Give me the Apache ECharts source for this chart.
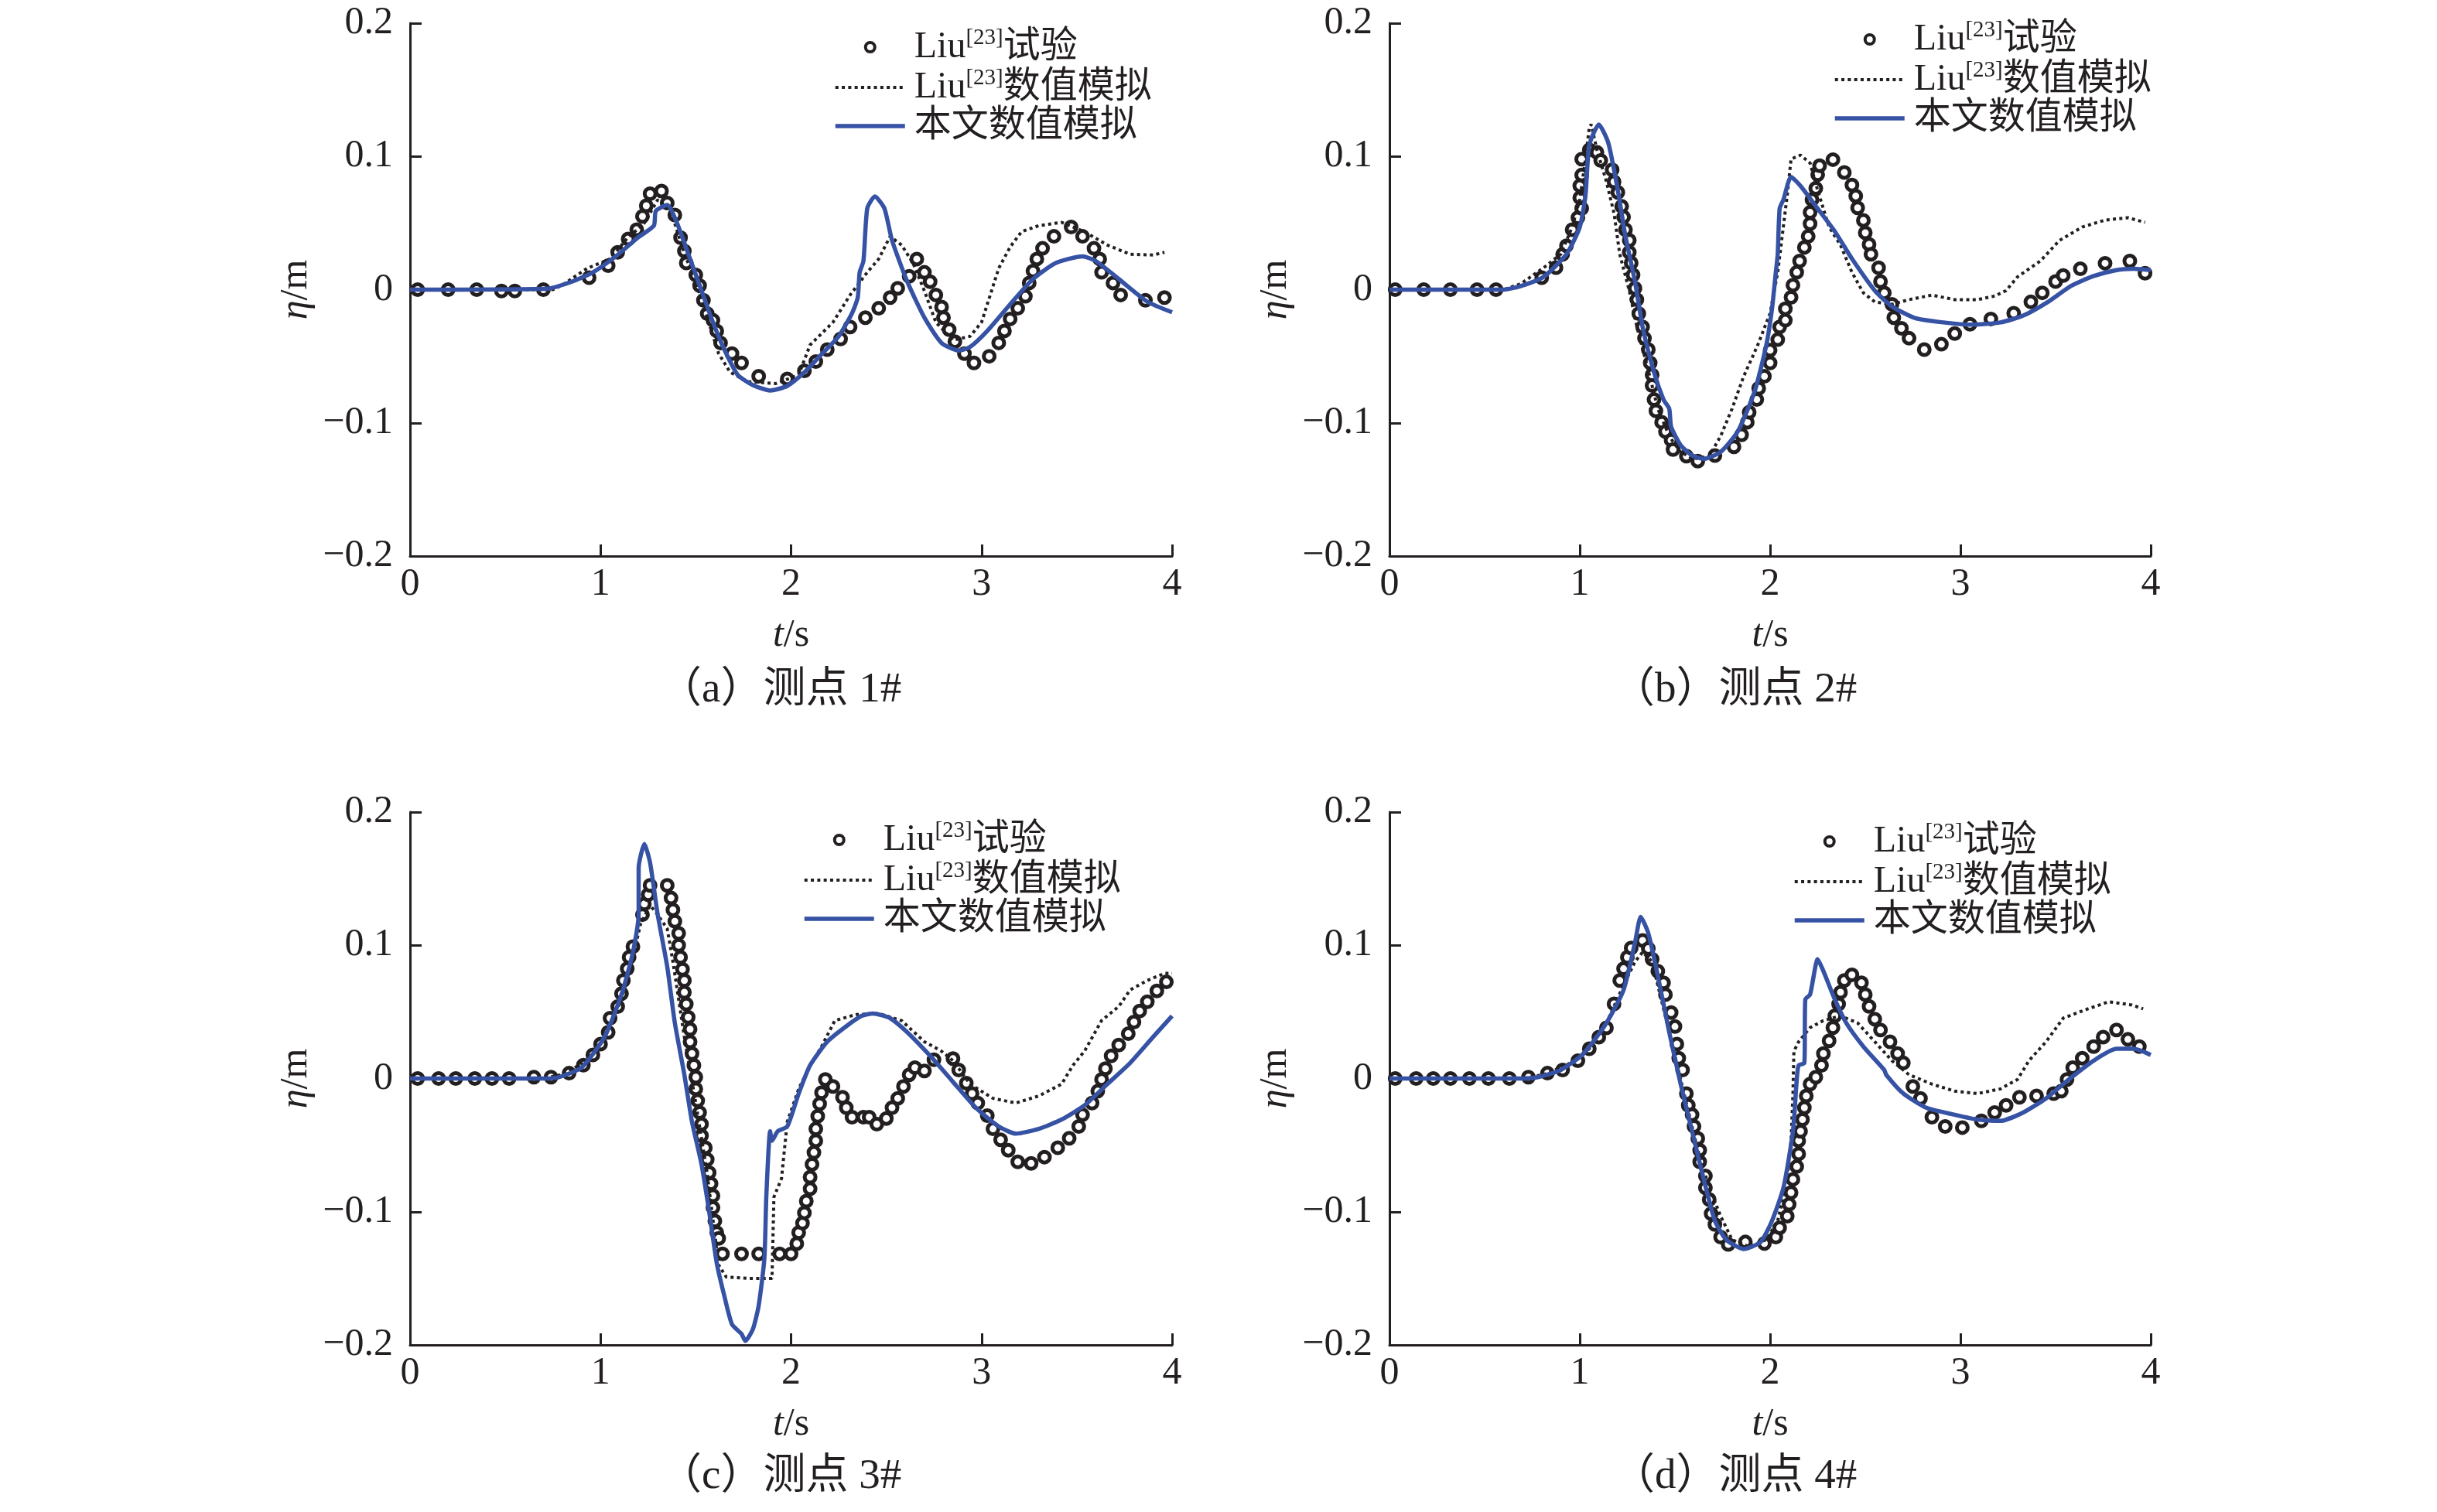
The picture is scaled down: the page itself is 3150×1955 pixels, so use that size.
<!DOCTYPE html>
<html>
<head>
<meta charset="utf-8">
<script src="https://cdn.jsdelivr.net/npm/echarts@6/dist/echarts.min.js"></script>
<style>
html,body{margin:0;padding:0;background:#fff;}
#main{width:3150px;height:1955px;}
</style>
</head>
<body>
<div id="main"></div>
<script>
// 测点波面时程：Liu试验 / Liu数值模拟 / 本文数值模拟
var seriesNames = ['Liu[23]试验', 'Liu[23]数值模拟', '本文数值模拟'];
var panelTitles = ['（a）测点 1#', '（b）测点 2#', '（c）测点 3#', '（d）测点 4#'];
var xTicks = [0, 4, 1];        // min, max, interval  (t/s)
var yTicks = [-0.2, 0.2, 0.1]; // min, max, interval  (η/m)

// ---- 测点 1# ----
var expA = [[0.04,0],[0.2,0],[0.35,0],[0.48,-0.001],[0.55,-0.001],[0.70,0],[0.94,0.009],[1.04,0.018],[1.09,0.028],[1.145,0.038],
  [1.19,0.045],[1.22,0.055],[1.24,0.063],[1.26,0.072],[1.32,0.074],[1.35,0.065],[1.39,0.056],[1.42,0.039],[1.44,0.029],[1.45,0.020],
  [1.50,0.011],[1.52,0.003],[1.54,-0.008],[1.56,-0.018],[1.59,-0.023],[1.61,-0.031],[1.63,-0.040],[1.69,-0.048],[1.74,-0.055],[1.83,-0.065],
  [1.98,-0.067],[2.07,-0.061],[2.13,-0.054],[2.19,-0.045],[2.26,-0.037],[2.31,-0.028],[2.39,-0.021],[2.46,-0.014],[2.52,-0.006],[2.56,0.001],
  [2.62,0.010],[2.66,0.023],[2.70,0.013],[2.73,0.006],[2.76,-0.004],[2.79,-0.013],[2.80,-0.021],[2.83,-0.030],[2.86,-0.039],[2.91,-0.048],
  [2.96,-0.055],[3.04,-0.050],[3.09,-0.040],[3.12,-0.031],[3.15,-0.022],[3.19,-0.014],[3.23,-0.005],[3.25,0.005],[3.27,0.014],[3.29,0.023],
  [3.32,0.031],[3.38,0.040],[3.47,0.047],[3.53,0.040],[3.59,0.031],[3.62,0.023],[3.63,0.013],[3.69,0.005],[3.73,-0.004],[3.86,-0.008],[3.96,-0.006]];
var liuA = [[0,0],[0.75,0],[0.80,0.0035],[0.93,0.016],[1.05,0.023],[1.14,0.0385],[1.23,0.050],[1.30,0.0675],[1.34,0.0625],[1.38,0.054],
  [1.44,0.027],[1.50,0.006],[1.56,-0.021],[1.62,-0.048],[1.68,-0.062],[1.77,-0.069],[1.92,-0.0705],[2.04,-0.064],[2.10,-0.0415],[2.22,-0.0245],
  [2.31,-0.004],[2.40,0.013],[2.46,0.023],[2.52,0.040],[2.58,0.0335],[2.64,0.020],[2.70,-0.001],[2.76,-0.0245],[2.85,-0.038],[2.94,-0.035],
  [3.00,-0.0245],[3.09,0.016],[3.15,0.032],[3.21,0.0435],[3.30,0.048],[3.42,0.0505],[3.54,0.0435],[3.66,0.0335],[3.78,0.0265],[3.90,0.026],[3.96,0.028]];
var oursA = [[0,0],[0.72,0.0007],[0.84,0.0055],[0.96,0.013],[1.08,0.025],[1.20,0.0395],[1.28,0.048],[1.29,0.059],[1.35,0.0635],[1.40,0.0505],
  [1.47,0.023],[1.53,-0.0007],[1.59,-0.0245],[1.65,-0.045],[1.72,-0.064],[1.80,-0.0717],[1.89,-0.0757],[1.98,-0.0723],[2.07,-0.062],[2.16,-0.0485],
  [2.25,-0.035],[2.32,-0.0177],[2.35,-0.006],[2.36,0.013],[2.38,0.0215],[2.40,0.061],[2.44,0.070],[2.49,0.061],[2.53,0.037],[2.61,0.006],
  [2.70,-0.021],[2.79,-0.040],[2.88,-0.0457],[2.94,-0.043],[3.03,-0.031],[3.15,-0.011],[3.27,0.008],[3.39,0.020],[3.53,0.025],[3.60,0.0215],
  [3.72,0.008],[3.87,-0.009],[4.0,-0.017]];

// ---- 测点 2# ----
var expB = [[0.03,0],[0.18,0],[0.32,0],[0.46,0],[0.56,0],[0.80,0.009],[0.875,0.0165],[0.91,0.0265],[0.93,0.033],[0.96,0.045],
  [0.99,0.054],[1.01,0.061],[1.00,0.069],[1.00,0.078],[1.01,0.086],[1.01,0.098],[1.05,0.105],[1.09,0.103],[1.11,0.097],[1.17,0.090],
  [1.18,0.081],[1.20,0.073],[1.22,0.0625],[1.23,0.0545],[1.24,0.045],[1.26,0.037],[1.26,0.028],[1.27,0.020],[1.28,0.011],[1.29,0.001],
  [1.30,-0.0075],[1.31,-0.018],[1.33,-0.028],[1.34,-0.0365],[1.36,-0.045],[1.37,-0.055],[1.38,-0.064],[1.38,-0.072],[1.39,-0.0825],[1.40,-0.091],
  [1.43,-0.0995],[1.45,-0.1065],[1.48,-0.113],[1.49,-0.120],[1.56,-0.125],[1.62,-0.1287],[1.71,-0.1245],[1.81,-0.118],[1.85,-0.109],[1.88,-0.0995],
  [1.89,-0.092],[1.93,-0.0825],[1.94,-0.074],[1.97,-0.065],[2.00,-0.055],[2.00,-0.0455],[2.04,-0.0375],[2.05,-0.028],[2.08,-0.023],[2.08,-0.0143],
  [2.11,-0.0058],[2.12,0.0034],[2.14,0.013],[2.155,0.0215],[2.18,0.0317],[2.20,0.040],[2.21,0.0495],[2.21,0.058],[2.22,0.0676],[2.24,0.076],
  [2.25,0.0863],[2.26,0.093],[2.33,0.0976],[2.39,0.088],[2.43,0.0785],[2.45,0.0703],[2.46,0.0614],[2.49,0.052],[2.50,0.0427],[2.52,0.034],
  [2.53,0.0266],[2.57,0.0164],[2.58,0.0061],[2.60,-0.0024],[2.64,-0.011],[2.65,-0.021],[2.69,-0.029],[2.73,-0.0365],[2.81,-0.045],[2.90,-0.041],
  [2.97,-0.033],[3.05,-0.026],[3.16,-0.022],[3.28,-0.0177],[3.37,-0.0092],[3.43,-0.0024],[3.50,0.0061],[3.54,0.0106],[3.63,0.0157],[3.76,0.0198],
  [3.89,0.0215],[3.97,0.0123]];
var liuB = [[0,0],[0.60,0],[0.69,0.0044],[0.81,0.0164],[0.90,0.0266],[0.96,0.047],[1.00,0.0676],[1.03,0.098],[1.05,0.122],[1.06,0.124],
  [1.09,0.105],[1.14,0.081],[1.18,0.0573],[1.21,0.0266],[1.26,-0.0007],[1.30,-0.028],[1.35,-0.055],[1.41,-0.0894],[1.47,-0.110],[1.53,-0.122],
  [1.60,-0.127],[1.68,-0.125],[1.74,-0.110],[1.80,-0.0894],[1.86,-0.0655],[1.935,-0.0416],[2.00,-0.0177],[2.04,0.013],[2.09,0.071],[2.11,0.098],
  [2.16,0.101],[2.21,0.095],[2.25,0.0744],[2.31,0.047],[2.37,0.0334],[2.43,0.013],[2.49,-0.0024],[2.55,-0.0092],[2.64,-0.011],[2.73,-0.0075],
  [2.85,-0.0041],[2.97,-0.0075],[3.09,-0.0075],[3.18,-0.0048],[3.24,-0.0007],[3.30,0.0096],[3.42,0.0215],[3.52,0.0369],[3.64,0.047],[3.76,0.0522],
  [3.88,0.054],[3.97,0.0505]];
var oursB = [[0,0],[0.60,0],[0.69,0.0027],[0.81,0.0096],[0.93,0.0266],[1.00,0.047],[1.03,0.071],[1.05,0.1085],[1.10,0.124],[1.15,0.110],
  [1.20,0.0744],[1.24,0.040],[1.29,0.0061],[1.33,-0.028],[1.39,-0.062],[1.44,-0.0826],[1.47,-0.0894],[1.48,-0.103],[1.53,-0.1167],[1.59,-0.1245],
  [1.65,-0.127],[1.74,-0.1218],[1.83,-0.1065],[1.92,-0.0758],[1.98,-0.0416],[2.01,-0.0143],[2.03,0.013],[2.04,0.0266],[2.05,0.0608],[2.07,0.0676],
  [2.11,0.0846],[2.16,0.0778],[2.25,0.0608],[2.34,0.0437],[2.43,0.0232],[2.55,-0.0007],[2.64,-0.0126],[2.76,-0.0212],[2.91,-0.0246],[3.06,-0.0263],
  [3.21,-0.0246],[3.33,-0.0195],[3.46,-0.0092],[3.58,0.0027],[3.70,0.0102],[3.82,0.0147],[3.91,0.0157],[4.0,0.0147]];

// ---- 测点 3# ----
var expC = [[0.04,0],[0.15,0],[0.24,0],[0.34,0],[0.43,0],[0.52,0],[0.65,0.001],[0.74,0.001],[0.835,0.004],[0.91,0.010],
  [0.96,0.0177],[1.00,0.0258],[1.04,0.0347],[1.05,0.0453],[1.09,0.054],[1.11,0.0637],[1.12,0.0736],[1.14,0.0824],[1.15,0.091],[1.17,0.099],
  [1.22,0.123],[1.23,0.131],[1.25,0.138],[1.26,0.145],[1.35,0.145],[1.37,0.1355],[1.38,0.1266],[1.39,0.118],[1.41,0.109],[1.41,0.100],
  [1.42,0.091],[1.43,0.082],[1.44,0.0736],[1.44,0.0647],[1.45,0.0559],[1.46,0.046],[1.47,0.037],[1.47,0.0276],[1.48,0.0187],[1.49,0.0099],
  [1.50,0.001],[1.50,-0.0078],[1.51,-0.0166],[1.52,-0.0255],[1.53,-0.0343],[1.53,-0.043],[1.55,-0.052],[1.56,-0.0608],[1.57,-0.0707],[1.58,-0.079],
  [1.59,-0.088],[1.59,-0.097],[1.60,-0.107],[1.61,-0.1157],[1.62,-0.120],[1.64,-0.1316],[1.74,-0.1316],[1.83,-0.1316],[1.94,-0.1316],[2.00,-0.1316],
  [2.03,-0.124],[2.04,-0.1157],[2.06,-0.1086],[2.07,-0.1008],[2.08,-0.092],[2.10,-0.0828],[2.10,-0.074],[2.11,-0.0644],[2.12,-0.0555],[2.13,-0.0467],
  [2.13,-0.0378],[2.14,-0.0283],[2.15,-0.019],[2.16,-0.0106],[2.18,-0.0007],[2.22,-0.006],[2.27,-0.0141],[2.29,-0.0219],[2.32,-0.029],[2.38,-0.029],
  [2.41,-0.029],[2.45,-0.0343],[2.50,-0.030],[2.53,-0.0219],[2.56,-0.0149],[2.59,-0.006],[2.62,0.0028],[2.65,0.0081],[2.70,0.0057],[2.75,0.0141],
  [2.85,0.0149],[2.88,0.0064],[2.92,-0.0035],[2.95,-0.0113],[2.98,-0.0184],[3.03,-0.0279],[3.06,-0.0378],[3.10,-0.046],[3.14,-0.0538],[3.19,-0.0626],
  [3.26,-0.0637],[3.33,-0.059],[3.40,-0.052],[3.46,-0.0449],[3.51,-0.036],[3.53,-0.0272],[3.58,-0.0184],[3.61,-0.0095],[3.63,-0.0007],[3.65,0.0074],
  [3.68,0.017],[3.72,0.0251],[3.77,0.0336],[3.80,0.0424],[3.83,0.0506],[3.87,0.0576],[3.92,0.0658],[3.97,0.0725]];
var liuC = [[0,0],[0.70,0],[0.80,0.003],[0.93,0.0134],[1.02,0.031],[1.11,0.0594],[1.17,0.0912],[1.21,0.116],[1.26,0.130],[1.30,0.123],
  [1.35,0.1125],[1.38,0.0877],[1.44,0.0311],[1.50,-0.0184],[1.56,-0.0714],[1.60,-0.1174],[1.62,-0.140],[1.66,-0.149],[1.77,-0.150],[1.90,-0.150],
  [1.91,-0.089],[1.95,-0.075],[1.98,-0.0325],[2.04,-0.0078],[2.10,0.0099],[2.16,0.024],[2.23,0.0435],[2.34,0.048],[2.46,0.0488],[2.58,0.0435],
  [2.70,0.0276],[2.79,0.0205],[2.85,0.0134],[2.94,-0.0042],[3.06,-0.0149],[3.18,-0.0184],[3.30,-0.0131],[3.42,-0.0042],[3.48,0.0099],[3.54,0.0205],
  [3.63,0.0435],[3.72,0.0541],[3.78,0.0665],[3.87,0.0736],[3.96,0.0789],[4.0,0.0789]];
var oursC = [[0,0],[0.70,0],[0.78,0.001],[0.90,0.0081],[1.02,0.031],[1.11,0.063],[1.17,0.0948],[1.20,0.123],[1.20,0.158],[1.23,0.176],
  [1.26,0.162],[1.30,0.123],[1.35,0.084],[1.39,0.0417],[1.44,0.0028],[1.48,-0.0325],[1.53,-0.0644],[1.57,-0.0997],[1.61,-0.1386],[1.65,-0.1634],
  [1.69,-0.1846],[1.74,-0.1917],[1.76,-0.197],[1.80,-0.188],[1.83,-0.1705],[1.86,-0.135],[1.87,-0.0891],[1.89,-0.0396],[1.90,-0.0467],[1.93,-0.0396],
  [1.98,-0.036],[2.04,-0.0113],[2.10,0.0099],[2.19,0.0276],[2.28,0.0382],[2.37,0.047],[2.43,0.0488],[2.52,0.0453],[2.61,0.0347],[2.73,0.017],
  [2.85,-0.0025],[2.97,-0.0219],[3.09,-0.036],[3.18,-0.0414],[3.30,-0.0378],[3.42,-0.0308],[3.54,-0.0202],[3.66,-0.0042],[3.78,0.0117],[3.90,0.0311],
  [4.0,0.047]];

// ---- 测点 4# ----
var expD = [[0.03,0],[0.14,0],[0.23,0],[0.32,0],[0.42,0],[0.52,0],[0.63,0],[0.73,0.001],[0.83,0.004],[0.91,0.0064],
  [0.99,0.0134],[1.05,0.0223],[1.10,0.0311],[1.14,0.038],[1.18,0.056],[1.21,0.0736],[1.23,0.0824],[1.25,0.091],[1.27,0.098],[1.33,0.1036],
  [1.36,0.0976],[1.38,0.0895],[1.41,0.0806],[1.44,0.0718],[1.45,0.063],[1.48,0.0495],[1.50,0.039],[1.51,0.0258],[1.52,0.0152],[1.54,0.0064],
  [1.56,-0.0113],[1.57,-0.0202],[1.59,-0.0272],[1.60,-0.036],[1.62,-0.045],[1.63,-0.0538],[1.63,-0.0626],[1.66,-0.0732],[1.66,-0.082],[1.68,-0.0909],
  [1.69,-0.1015],[1.71,-0.1096],[1.74,-0.119],[1.78,-0.1245],[1.87,-0.1227],[1.97,-0.1238],[2.03,-0.119],[2.05,-0.112],[2.09,-0.1033],[2.10,-0.0944],
  [2.11,-0.0856],[2.12,-0.0757],[2.14,-0.0661],[2.15,-0.0566],[2.15,-0.0467],[2.16,-0.0396],[2.17,-0.0308],[2.18,-0.0219],[2.19,-0.0131],[2.21,-0.0042],
  [2.24,0.001],[2.27,0.0099],[2.28,0.0187],[2.31,0.0283],[2.33,0.0382],[2.34,0.047],[2.36,0.0559],[2.37,0.0647],[2.39,0.0736],[2.43,0.0778],
  [2.48,0.0718],[2.50,0.063],[2.52,0.0541],[2.55,0.0446],[2.58,0.0364],[2.63,0.0276],[2.67,0.0187],[2.70,0.0117],[2.75,-0.006],[2.79,-0.0149],
  [2.85,-0.029],[2.92,-0.036],[3.01,-0.0368],[3.11,-0.0318],[3.18,-0.0255],[3.24,-0.0202],[3.31,-0.0141],[3.40,-0.0131],[3.49,-0.0113],[3.53,-0.0095],
  [3.56,-0.0007],[3.59,0.0081],[3.64,0.0152],[3.70,0.024],[3.75,0.0311],[3.82,0.0364],[3.88,0.0294],[3.94,0.024]];
var liuD = [[0,0],[0.70,0],[0.81,0.003],[0.93,0.0099],[1.05,0.0223],[1.14,0.0417],[1.23,0.070],[1.29,0.0877],[1.33,0.0948],[1.38,0.0877],
  [1.44,0.0523],[1.50,0.017],[1.56,-0.0184],[1.62,-0.0538],[1.68,-0.082],[1.74,-0.1033],[1.80,-0.121],[1.89,-0.1263],[1.98,-0.121],[2.04,-0.1068],
  [2.09,-0.075],[2.11,-0.0467],[2.12,-0.0113],[2.125,0.0205],[2.15,0.0276],[2.21,0.0382],[2.28,0.0435],[2.37,0.047],[2.46,0.0417],[2.55,0.0276],
  [2.64,0.0134],[2.73,0.0028],[2.85,-0.0042],[2.97,-0.0095],[3.09,-0.0113],[3.21,-0.0078],[3.30,-0.0007],[3.36,0.0134],[3.45,0.0276],[3.54,0.0453],
  [3.67,0.0523],[3.78,0.0576],[3.90,0.0552],[3.96,0.0523]];
var oursD = [[0,0],[0.70,0],[0.78,0.001],[0.90,0.0064],[1.02,0.0187],[1.14,0.0417],[1.23,0.0665],[1.29,0.1019],[1.32,0.1213],[1.36,0.109],
  [1.41,0.0771],[1.47,0.0347],[1.53,-0.0042],[1.59,-0.0396],[1.65,-0.075],[1.71,-0.1068],[1.77,-0.121],[1.86,-0.128],[1.95,-0.1227],[2.01,-0.1068],
  [2.07,-0.082],[2.12,-0.0396],[2.14,-0.0007],[2.15,0.0099],[2.18,0.0117],[2.185,0.0594],[2.21,0.063],[2.25,0.0895],[2.28,0.0806],[2.34,0.0594],
  [2.40,0.0417],[2.49,0.024],[2.60,0.0064],[2.61,0.0028],[2.70,-0.0113],[2.82,-0.0219],[2.97,-0.0272],[3.09,-0.0308],[3.21,-0.0318],[3.33,-0.0255],
  [3.45,-0.0149],[3.57,-0.0007],[3.70,0.0134],[3.82,0.0223],[3.91,0.0223],[4.0,0.0177]];

var expAll = [expA, expB, expC, expD];
var liuAll = [liuA, liuB, liuC, liuD];
var oursAll = [oursA, oursB, oursC, oursD];

// 版面
var INK = '#231f20';
var BLUE = '#3652a4';
var FONT = '"Liberation Serif","Times New Roman","Noto Sans CJK SC",serif';
var DOT = [4, 4.3];
var gridBox = [[530, 30, 985], [1796, 30, 984], [530, 1050, 985], [1796, 1050, 984]];
var legendPos = [[1072, 30], [2364, 20], [1032, 1055], [2312, 1057]];
var captionPos = [[852, 893], [2084, 893], [852, 1910], [2084, 1910]];

var myChart = echarts.init(document.getElementById('main'), null, {renderer: 'canvas'});

function yFmt(v){
    if (Math.abs(v) < 1e-9) return '0';
    return (v < 0 ? '\u2212' : '') + Math.abs(v).toFixed(1);
}
function legendFmt(name){
    if (name.indexOf('[23]') > -1) {
        var p = name.split('[23]');
        return '{n|' + p[0] + '}{s|[23]}{n|' + p[1] + '}';
    }
    return '{n|' + name + '}';
}

var option = {
    animation: false,
    backgroundColor: '#fff',
    grid: [], xAxis: [], yAxis: [], legend: [], series: [], graphic: []
};

for (var i = 0; i < 4; i++) {
    option.grid.push({left: gridBox[i][0], top: gridBox[i][1], width: gridBox[i][2], height: 689});
    option.xAxis.push({
        gridIndex: i, type: 'value', min: xTicks[0], max: xTicks[1], interval: xTicks[2],
        name: '{i|t}/s', nameLocation: 'middle', nameGap: 78,
        nameTextStyle: {fontFamily: FONT, fontSize: 50, color: INK,
            rich: {i: {fontFamily: FONT, fontSize: 50, fontStyle: 'italic', color: INK}}},
        axisLine: {onZero: false, lineStyle: {color: INK, width: 3}},
        axisTick: {inside: true, length: 15, lineStyle: {color: INK, width: 3}},
        axisLabel: {margin: 12, fontFamily: FONT, fontSize: 50, color: INK, showMinLabel: true, showMaxLabel: true},
        splitLine: {show: false}
    });
    option.yAxis.push({
        gridIndex: i, type: 'value', min: yTicks[0], max: yTicks[1], interval: yTicks[2],
        name: '{i|η}/m', nameLocation: 'middle', nameRotate: 90, nameGap: 122,
        nameTextStyle: {fontFamily: FONT, fontSize: 50, color: INK,
            rich: {i: {fontFamily: FONT, fontSize: 50, fontStyle: 'italic', color: INK}}},
        axisLine: {onZero: false, lineStyle: {color: INK, width: 3}},
        axisTick: {inside: true, length: 15, lineStyle: {color: INK, width: 3}},
        axisLabel: {margin: 22, fontFamily: FONT, fontSize: 50, color: INK, formatter: yFmt, showMinLabel: true, showMaxLabel: true},
        splitLine: {show: false}
    });
    option.legend.push({
        left: legendPos[i][0], top: legendPos[i][1], orient: 'vertical',
        itemWidth: 90, itemHeight: 12, itemGap: 2, selectedMode: false,
        data: [
            {name: seriesNames[0], icon: 'circle', itemStyle: {color: '#fff', borderColor: INK, borderWidth: 4, opacity: 1}},
            {name: seriesNames[1], itemStyle: {opacity: 0}, lineStyle: {color: INK, width: 4, type: DOT}},
            {name: seriesNames[2], itemStyle: {opacity: 0}, lineStyle: {color: BLUE, width: 5.5}}
        ],
        formatter: legendFmt,
        textStyle: {fontFamily: FONT, fontSize: 48, color: INK, padding: [0, 0, 0, 7],
            rich: {
                n: {fontFamily: FONT, fontSize: 48, color: INK, lineHeight: 52},
                s: {fontFamily: FONT, fontSize: 29, color: INK, lineHeight: 29, verticalAlign: 'top'}
            }}
    });
    option.series.push({
        name: seriesNames[0], type: 'scatter', xAxisIndex: i, yAxisIndex: i, data: expAll[i],
        symbol: 'circle', symbolSize: 14, z: 2,
        itemStyle: {color: '#fff', borderColor: INK, borderWidth: 5, opacity: 1}
    });
    option.series.push({
        name: seriesNames[1], type: 'line', xAxisIndex: i, yAxisIndex: i, data: liuAll[i],
        symbol: 'none', z: 3,
        itemStyle: {color: INK},
        lineStyle: {color: INK, width: 4, type: DOT}
    });
    option.series.push({
        name: seriesNames[2], type: 'line', xAxisIndex: i, yAxisIndex: i, data: oursAll[i],
        symbol: 'none', z: 4, smooth: 0.2,
        itemStyle: {color: BLUE},
        lineStyle: {color: BLUE, width: 5.5}
    });
    option.graphic.push({
        type: 'text', x: captionPos[i][0], y: captionPos[i][1],
        style: {text: panelTitles[i], fontFamily: FONT, fontSize: 55, fill: INK,
            textAlign: 'left', textVerticalAlign: 'middle'}
    });
}

myChart.setOption(option);
</script>
</body>
</html>
